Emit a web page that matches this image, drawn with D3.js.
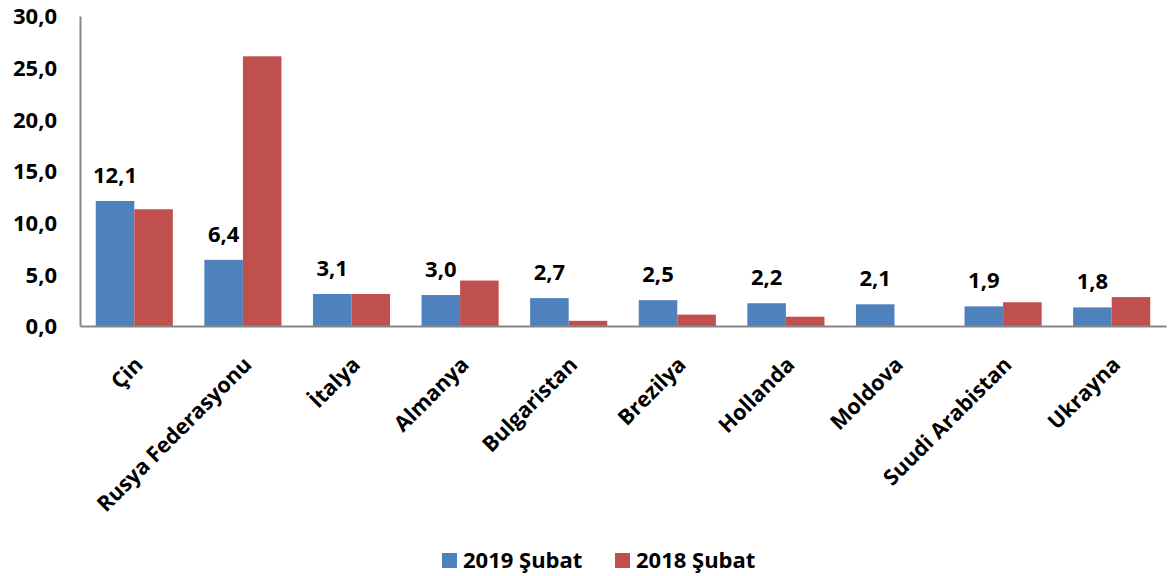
<!DOCTYPE html>
<html>
<head>
<meta charset="utf-8">
<script src="https://cdn.jsdelivr.net/npm/d3@7"></script>
<style>
  body { margin: 0; background: #fff; }
  text { font-family: "Open Sans", Lato, sans-serif; font-weight: bold; fill: #000; }
</style>
</head>
<body>
<svg id="chart" width="1168" height="576"></svg>
<script>
const categories = ['Çin', 'Rusya Federasyonu', 'İtalya', 'Almanya', 'Bulgaristan', 'Brezilya', 'Hollanda', 'Moldova', 'Suudi Arabistan', 'Ukrayna']
const values2019 = [12.1, 6.4, 3.1, 3.0, 2.7, 2.5, 2.2, 2.1, 1.9, 1.8]
const values2018 = [11.3, 26.1, 3.1, 4.4, 0.5, 1.1, 0.9, 0, 2.3, 2.8]
const seriesNames = ['2019 Şubat', '2018 Şubat']
const yTicks = [0, 5, 10, 15, 20, 25, 30]

const colors = ['#4F81BD', '#C0504D']

const
  svg        = d3.select('#chart'),
  plotLeft   = 80,
  plotRight  = 1166,
  plotTop    = 16,
  plotBottom = 326,
  fmt        = v => d3.format('.1f')(v).replace('.', ',')

const x = d3.scaleBand().domain(categories).range([plotLeft, plotRight]).paddingInner(0.29).paddingOuter(0.145)
const sub = d3.scaleBand().domain([0, 1]).range([0, x.bandwidth()])
const y = d3.scaleLinear().domain([0, 30]).range([plotBottom, plotTop])

// y axis
const yAxis = svg.append('g')
  .attr('transform', `translate(${plotLeft},0)`)
  .call(d3.axisLeft(y).tickValues(yTicks).tickFormat(fmt).tickSize(0).tickPadding(23))
yAxis.select('.domain').attr('stroke', '#868686').attr('stroke-width', 2)
yAxis.selectAll('text').style('font-size', '22px').attr('dy', '0.36em')

// bars
const rows = categories.map((c, i) => ({ c, v: [values2019[i], values2018[i]] }))
const groups = svg.append('g').selectAll('g').data(rows).join('g')
  .attr('transform', d => `translate(${x(d.c)},0)`)

groups.selectAll('rect').data(d => d.v).join('rect')
  .attr('x', (d, i) => sub(i))
  .attr('y', d => y(d))
  .attr('width', sub.bandwidth())
  .attr('height', d => y(0) - y(d))
  .attr('fill', (d, i) => colors[i])

// labels on 2019 bars
groups.append('text')
  .attr('x', sub(0) + sub.bandwidth() / 2)
  .attr('y', d => y(d.v[0]) - 18)
  .attr('text-anchor', 'middle')
  .style('font-size', '22px')
  .text(d => fmt(d.v[0]))

// x axis
const xAxis = svg.append('g')
  .attr('transform', `translate(0,${plotBottom})`)
  .call(d3.axisBottom(x).tickSize(0).tickPadding(0))
xAxis.select('.domain').attr('stroke', '#868686').attr('stroke-width', 2)
xAxis.selectAll('text')
  .style('font-size', '21.5px')
  .attr('text-anchor', 'end')
  .attr('dy', 0)
  .attr('transform', 'translate(10,40) rotate(-45)')

// legend
const legend = svg.append('g').attr('transform', 'translate(442,553)')
const items = legend.selectAll('g').data(seriesNames).join('g')
  .attr('transform', (d, i) => `translate(${i * 173},0)`)
items.append('rect').attr('width', 15).attr('height', 15).attr('fill', (d, i) => colors[i])
items.append('text').attr('x', 21).attr('y', 7).attr('dy', '0.36em').style('font-size', '22px').text(d => d)
</script>
</body>
</html>
